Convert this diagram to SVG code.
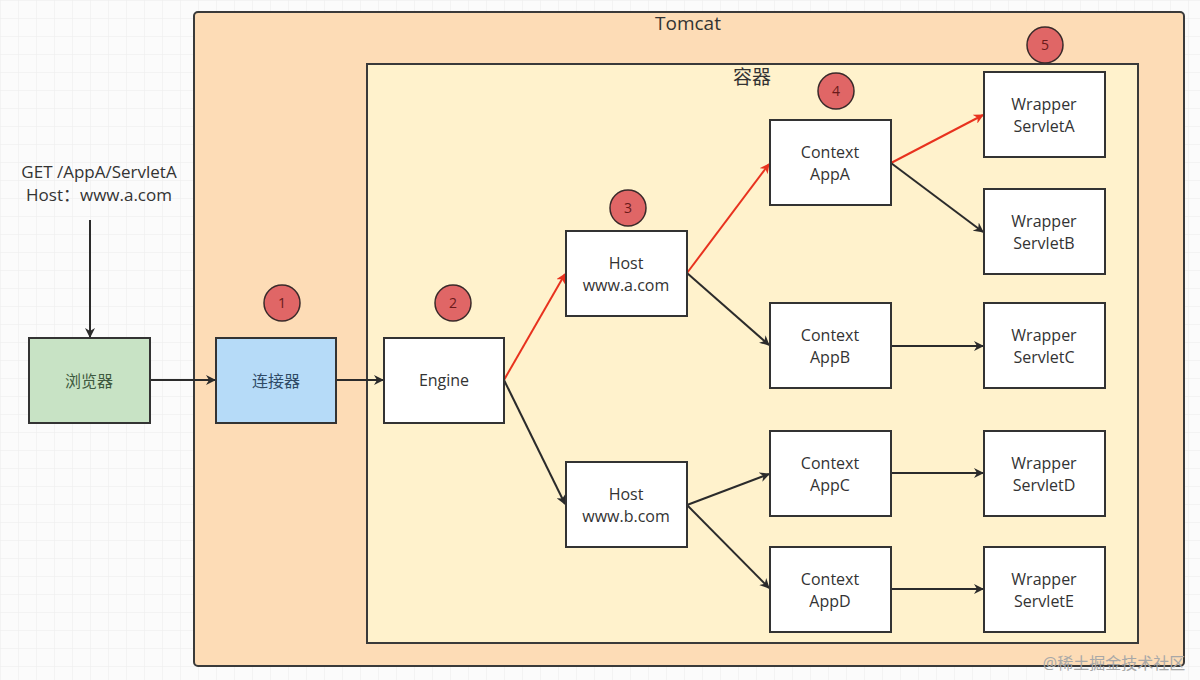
<svg xmlns="http://www.w3.org/2000/svg" width="1200" height="680" viewBox="0 0 1200 680">
<defs>
<pattern id="grid" width="18" height="18" patternUnits="userSpaceOnUse">
<path d="M18 0H0V18" fill="none" stroke="#ececec" stroke-width="1"/>
</pattern>
<marker id="ab" viewBox="0 0 10 10" refX="9" refY="5" markerWidth="10" markerHeight="10" markerUnits="userSpaceOnUse" orient="auto">
<path d="M0 0L10 5L0 10L3 5z" fill="#2b2b2b"/>
</marker>
<marker id="ar" viewBox="0 0 10 10" refX="9" refY="5" markerWidth="10" markerHeight="10" markerUnits="userSpaceOnUse" orient="auto">
<path d="M0 0L10 5L0 10L3 5z" fill="#e8321e"/>
</marker>
<style>
text{font-family:"Open Sans","Noto Sans","Noto Sans CJK SC",sans-serif;font-size:16px;fill:#333;text-anchor:middle}
.box{fill:#fff;stroke:#333;stroke-width:2}
.badge{fill:#e06666;stroke:#3a2a2a;stroke-width:1.5}
.bt{font-size:14px;fill:#6a1a1a}
.lk{stroke:#2b2b2b;stroke-width:2;fill:none;marker-end:url(#ab)}
.rd{stroke:#e8321e;stroke-width:2;fill:none;marker-end:url(#ar)}
</style>
</defs>
<rect width="1200" height="680" fill="#fbfbfb"/>
<rect width="1200" height="680" fill="url(#grid)"/>
<g id="tomcat">
<rect x="194" y="12" width="990" height="654" rx="4" fill="#fddcb6" stroke="#3a3a3a" stroke-width="2"/>
<text x="688" y="30" style="font-size:19px">Tomcat</text>
</g>
<g id="container">
<rect x="367" y="64" width="771" height="579" fill="#fff2cc" stroke="#3a3a3a" stroke-width="2"/>
<text x="752" y="84" style="font-size:19px">容器</text>
</g>
<g id="request">
<text x="99" y="178" style="font-size:17px">GET /AppA/ServletA</text>
<text x="99" y="201" style="font-size:17px">Host：www.a.com</text>
</g>
<g id="connectors">
<line class="lk" x1="90" y1="220" x2="90" y2="337"/>
<line class="lk" x1="150" y1="380" x2="215" y2="380"/>
<line class="lk" x1="336" y1="380" x2="383" y2="380"/>
<line class="rd" x1="504" y1="380" x2="565" y2="274"/>
<line class="lk" x1="504" y1="380" x2="565" y2="504"/>
<line class="rd" x1="687" y1="273" x2="769" y2="164"/>
<line class="lk" x1="687" y1="273" x2="769" y2="345"/>
<line class="lk" x1="687" y1="505" x2="769" y2="474"/>
<line class="lk" x1="687" y1="505" x2="769" y2="588"/>
<line class="rd" x1="891" y1="163" x2="983" y2="115"/>
<line class="lk" x1="891" y1="163" x2="983" y2="232"/>
<line class="lk" x1="891" y1="346" x2="983" y2="346"/>
<line class="lk" x1="891" y1="473" x2="983" y2="473"/>
<line class="lk" x1="891" y1="589" x2="983" y2="589"/>
</g>
<g id="browser">
<rect x="29" y="338" width="121" height="85" fill="#c8e3c5" stroke="#333" stroke-width="2"/>
<text x="89" y="387" style="fill:#3f5a40">浏览器</text>
</g>
<g id="connector">
<rect x="216" y="338" width="120" height="85" fill="#b6dbf8" stroke="#333" stroke-width="2"/>
<text x="276" y="387" style="fill:#2f4a66">连接器</text>
</g>
<g id="engine">
<rect class="box" x="384" y="338" width="120" height="85"/>
<text x="444" y="386">Engine</text>
</g>
<g id="host-a">
<rect class="box" x="566" y="231" width="121" height="85"/>
<text x="626" y="269">Host</text><text x="626" y="291">www.a.com</text>
</g>
<g id="host-b">
<rect class="box" x="566" y="462" width="121" height="85"/>
<text x="626" y="500">Host</text><text x="626" y="522">www.b.com</text>
</g>
<g id="ctx-a">
<rect class="box" x="770" y="120" width="121" height="85"/>
<text x="830" y="158">Context</text><text x="830" y="180">AppA</text>
</g>
<g id="ctx-b">
<rect class="box" x="770" y="303" width="121" height="85"/>
<text x="830" y="341">Context</text><text x="830" y="363">AppB</text>
</g>
<g id="ctx-c">
<rect class="box" x="770" y="431" width="121" height="85"/>
<text x="830" y="469">Context</text><text x="830" y="491">AppC</text>
</g>
<g id="ctx-d">
<rect class="box" x="770" y="547" width="121" height="85"/>
<text x="830" y="585">Context</text><text x="830" y="607">AppD</text>
</g>
<g id="wrap-a">
<rect class="box" x="984" y="72" width="121" height="85"/>
<text x="1044" y="110">Wrapper</text><text x="1044" y="132">ServletA</text>
</g>
<g id="wrap-b">
<rect class="box" x="984" y="189" width="121" height="85"/>
<text x="1044" y="227">Wrapper</text><text x="1044" y="249">ServletB</text>
</g>
<g id="wrap-c">
<rect class="box" x="984" y="303" width="121" height="85"/>
<text x="1044" y="341">Wrapper</text><text x="1044" y="363">ServletC</text>
</g>
<g id="wrap-d">
<rect class="box" x="984" y="431" width="121" height="85"/>
<text x="1044" y="469">Wrapper</text><text x="1044" y="491">ServletD</text>
</g>
<g id="wrap-e">
<rect class="box" x="984" y="547" width="121" height="85"/>
<text x="1044" y="585">Wrapper</text><text x="1044" y="607">ServletE</text>
</g>
<g id="badge-1"><circle class="badge" cx="282" cy="303" r="18"/><text class="bt" x="282" y="308">1</text></g>
<g id="badge-2"><circle class="badge" cx="453" cy="303" r="18"/><text class="bt" x="453" y="308">2</text></g>
<g id="badge-3"><circle class="badge" cx="628" cy="208" r="18"/><text class="bt" x="628" y="213">3</text></g>
<g id="badge-4"><circle class="badge" cx="836" cy="91" r="18"/><text class="bt" x="836" y="96">4</text></g>
<g id="badge-5"><circle class="badge" cx="1045" cy="45" r="18"/><text class="bt" x="1045" y="50">5</text></g>
<text x="1114" y="669" style="font-size:16px;fill:#a8a8a8">@稀土掘金技术社区</text>
</svg>
